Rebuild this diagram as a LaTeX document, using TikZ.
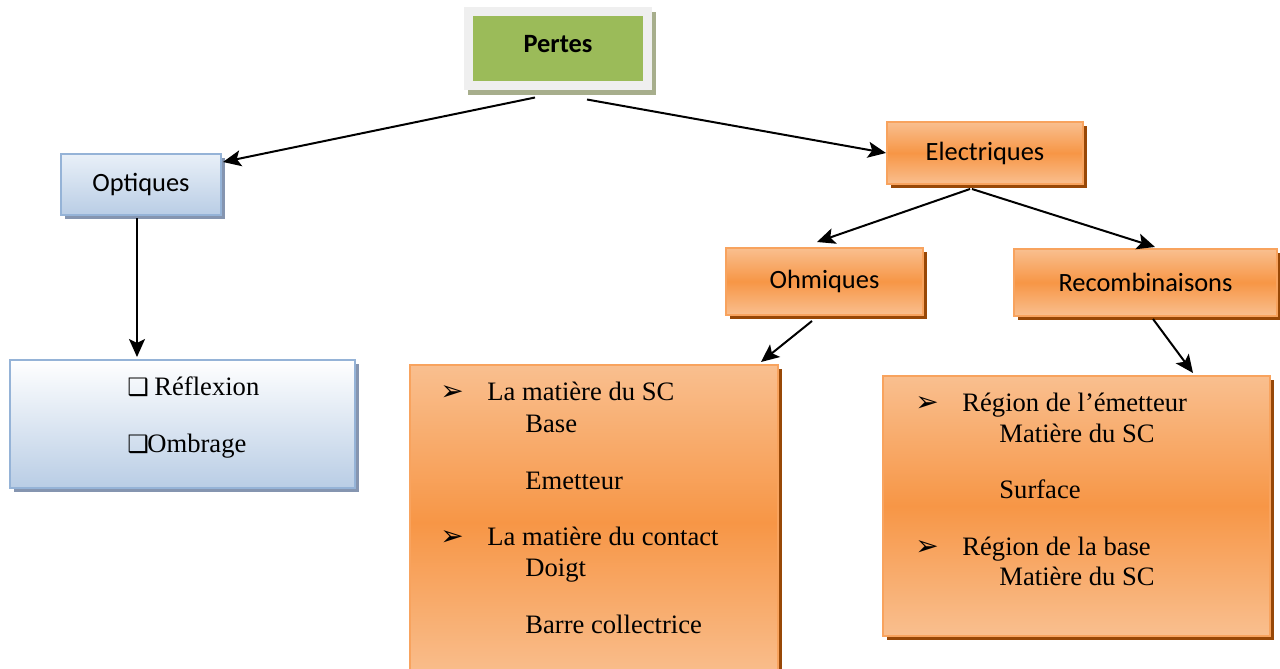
\documentclass[tikz,border=0pt]{standalone}
\usepackage{fontspec}
\setmainfont{Liberation Serif}
\newfontfamily\calib{Carlito}
\newfontfamily\dejavu{DejaVu Sans}
\usetikzlibrary{shadows,arrows.meta}
\definecolor{orlight}{HTML}{F9BF8F}
\definecolor{ormid}{HTML}{F79646}
\definecolor{orborder}{HTML}{F8A35E}
\definecolor{orshadow}{HTML}{984807}
\definecolor{bllight}{HTML}{B9CDE5}
\definecolor{bltop}{HTML}{E9F0F8}
\definecolor{blborder}{HTML}{95B3D7}
\definecolor{blshadow}{HTML}{8595B0}
\definecolor{grmain}{HTML}{9BBB59}
\definecolor{grframe}{HTML}{EFEFEF}
\definecolor{grshadow}{HTML}{A7AE8C}
\begin{document}
\begin{tikzpicture}[x=0.5pt,y=-0.5pt,
  labfont/.style={font=\calib\fontsize{13.2}{16}\selectfont},
  orangebox/.style={draw=orborder, line width=1pt, top color=orlight, bottom color=orlight, middle color=ormid,
    drop shadow={shadow xshift=1.75pt, shadow yshift=-1.75pt, fill=orshadow, opacity=1}, inner sep=0pt, labfont},
  bluebox/.style={draw=blborder, line width=1pt, top color=#1, bottom color=bllight,
    drop shadow={shadow xshift=1.75pt, shadow yshift=-1.75pt, fill=blshadow, opacity=1}, inner sep=0pt, labfont},
  item/.style={anchor=base west, inner sep=0pt, font=\fontsize{13.3}{16}\selectfont},
  arrbul/.style={anchor=base west, inner sep=0pt, font=\dejavu\fontsize{14}{16}\selectfont},
  sqbul/.style={anchor=base west, inner sep=0pt, font=\dejavu\fontsize{12}{14}\selectfont},
  arr/.style={-{Stealth[length=9pt,width=8pt,inset=2pt]}, line width=1pt, black}
]
\useasboundingbox (0,0) rectangle (1280,669);

% Pertes
\node[draw=grframe, line width=4.5pt, fill=grmain, minimum width=89.5pt, minimum height=37pt, inner sep=0pt,
  drop shadow={shadow xshift=2pt, shadow yshift=-2.5pt, fill=grshadow, draw=grshadow, line width=4.5pt, opacity=1},
  font=\calib\bfseries\fontsize{13.2}{16}\selectfont, text depth=4.5pt] (pertes) at (558,48.5) {Pertes};

% Optiques and its list
\node[bluebox=bltop, minimum width=80pt, minimum height=30.5pt] (opt) at (141,184.5) {Optiques};
\node[bluebox=white, minimum width=172.5pt, minimum height=64pt] (refl) at (182.5,424) {};
\node[sqbul] (rb1) at (127,395) {❑};
\node[item] (r1) at (154,395) {Réflexion};
\node[sqbul] (rb2) at (127,452) {❑};
\node[item] (r2) at (147,452) {Ombrage};

% Electriques
\node[orangebox, minimum width=98pt, minimum height=31pt] (elec) at (985,153) {Electriques};
\node[orangebox, minimum width=98.5pt, minimum height=33.5pt] (ohm) at (824.5,281.5) {Ohmiques};
\node[orangebox, minimum width=131.5pt, minimum height=33.5pt] (rec) at (1145.5,282.5) {Recombinaisons};

% Ohmiques list
\node[orangebox, minimum width=184pt, minimum height=157.5pt] (ohml) at (594,522.5) {};
\node[arrbul] (ob1) at (440,400) {➢};
\node[item] (o1) at (487,400) {La matière du SC};
\node[item] (o2) at (525,432) {Base};
\node[item] (o3) at (525,489) {Emetteur};
\node[arrbul] (ob2) at (440,545) {➢};
\node[item] (o4) at (487,545) {La matière du contact};
\node[item] (o5) at (525,576) {Doigt};
\node[item] (o6) at (525,633) {Barre collectrice};

% Recombinaisons list
\node[orangebox, minimum width=193.5pt, minimum height=130pt] (recl) at (1076.5,506) {};
\node[arrbul] (eb1) at (915,411) {➢};
\node[item] (e1) at (962,411) {Région de l’émetteur};
\node[item] (e2) at (999,442) {Matière du SC};
\node[item] (e3) at (999,498) {Surface};
\node[arrbul] (eb2) at (915,555) {➢};
\node[item] (e4) at (962,555) {Région de la base};
\node[item] (e5) at (999,585) {Matière du SC};

% connectors
\draw[arr] ([shift={(-23,7.5)}]pertes.south) -- ([shift={(1,9)}]opt.north east);
\draw[arr] ([shift={(29,9.5)}]pertes.south) -- (elec.west);
\draw[arr] ([shift={(-4,2)}]opt.south) -- ([shift={(-45.5,-2)}]refl.north);
\draw[arr] ([shift={(-15,4)}]elec.south) -- ([shift={(-7.5,-5)}]ohm.north);
\draw[arr] ([shift={(-13,4)}]elec.south) -- ([shift={(9.5,-1)}]rec.north);
\draw[arr] ([shift={(-12.5,5)}]ohm.south) -- ([shift={(-18,-2)}]ohml.north east);
\draw[arr] ([shift={(7.5,2)}]rec.south) -- ([shift={(116.5,-2)}]recl.north);
\end{tikzpicture}
\end{document}
